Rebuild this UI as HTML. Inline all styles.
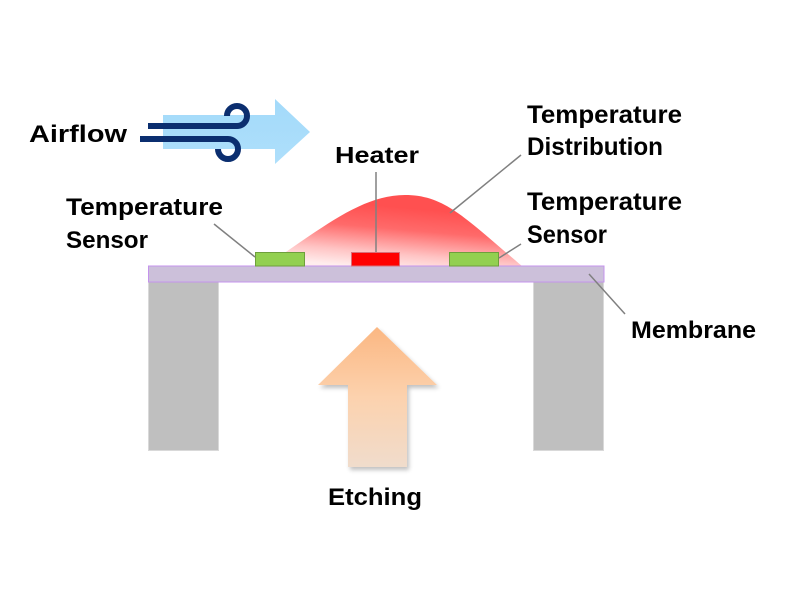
<!DOCTYPE html>
<html>
<head>
<meta charset="utf-8">
<style>
html,body{margin:0;padding:0;background:#fff;}
svg{display:block;}
text{font-family:"Liberation Sans",sans-serif;font-weight:bold;fill:#000;}
</style>
</head>
<body>
<svg width="800" height="600" viewBox="0 0 800 600" xmlns="http://www.w3.org/2000/svg">
<defs>
<linearGradient id="heat" x1="0.6" y1="0.2" x2="0.35" y2="1">
<stop offset="0" stop-color="#FF5050"/>
<stop offset="0.35" stop-color="#FF6A6A"/>
<stop offset="0.75" stop-color="#FFC4C4"/>
<stop offset="1" stop-color="#FFEDED"/>
</linearGradient>
<linearGradient id="etch" x1="0" y1="0" x2="0" y2="1">
<stop offset="0" stop-color="#FBB782"/>
<stop offset="0.5" stop-color="#FCD2AE"/>
<stop offset="1" stop-color="#F0DCCC"/>
</linearGradient>
<linearGradient id="air" x1="0" y1="0" x2="0" y2="1">
<stop offset="0" stop-color="#A3DAFA"/>
<stop offset="1" stop-color="#AEDFFB"/>
</linearGradient>
<filter id="sh" x="-20%" y="-20%" width="140%" height="140%">
<feGaussianBlur in="SourceAlpha" stdDeviation="2"/>
<feOffset dx="2" dy="3"/>
<feComponentTransfer><feFuncA type="linear" slope="0.25"/></feComponentTransfer>
<feMerge><feMergeNode/><feMergeNode in="SourceGraphic"/></feMerge>
</filter>
</defs>

<!-- Airflow arrow -->
<polygon points="163,115 275,115 275,99 310,132 275,164 275,149 163,149" fill="url(#air)"/>
<path d="M148,126 H237 A10,10 0 1 0 227,116" fill="none" stroke="#0B2E6F" stroke-width="6"/>
<path d="M140,139 H228 A10,10 0 1 1 218,149" fill="none" stroke="#0B2E6F" stroke-width="6"/>
<text x="29" y="142" font-size="24" textLength="98" lengthAdjust="spacingAndGlyphs">Airflow</text>

<!-- Temperature distribution -->
<path d="M265,266 C320,230 360,195 405,195 C445,195 465,218 522,266 Z" fill="url(#heat)"/>

<!-- Pillars -->
<rect x="148.5" y="282" width="70" height="168.5" fill="#BFBFBF" stroke="#D9D9D9" stroke-width="1"/>
<rect x="533.5" y="282" width="70" height="168.5" fill="#BFBFBF" stroke="#D9D9D9" stroke-width="1"/>

<!-- Membrane -->
<rect x="148.5" y="266" width="455.5" height="16" fill="#CCC0DA" stroke="#C493EC" stroke-width="1"/>

<!-- Sensors and heater -->
<rect x="255.5" y="252.5" width="49" height="13.5" fill="#92D050" stroke="#6E9F3C" stroke-width="1"/>
<rect x="449.5" y="252.5" width="49" height="13.5" fill="#92D050" stroke="#6E9F3C" stroke-width="1"/>
<rect x="351.5" y="252.5" width="48" height="13.5" fill="#FF0000" stroke="#D9707A" stroke-width="1"/>

<!-- Leader lines -->
<g stroke="#808080" stroke-width="1.5" fill="none">
<line x1="376" y1="172" x2="376" y2="252"/>
<line x1="214" y1="224" x2="255" y2="257"/>
<line x1="450" y1="213" x2="521" y2="155"/>
<line x1="499" y1="258" x2="521" y2="244"/>
<line x1="589" y1="274" x2="625" y2="314"/>
</g>

<!-- Etching arrow -->
<polygon points="377,327 437,385 407,385 407,467 348,467 348,385 318,385" fill="url(#etch)" filter="url(#sh)"/>

<!-- Labels -->
<text x="335" y="163" font-size="23" textLength="84" lengthAdjust="spacingAndGlyphs">Heater</text>
<text x="66" y="215" font-size="24" textLength="157" lengthAdjust="spacingAndGlyphs">Temperature</text>
<text x="66" y="248" font-size="24" textLength="82" lengthAdjust="spacingAndGlyphs">Sensor</text>
<text x="527" y="123" font-size="25" textLength="155" lengthAdjust="spacingAndGlyphs">Temperature</text>
<text x="527" y="155" font-size="25" textLength="136" lengthAdjust="spacingAndGlyphs">Distribution</text>
<text x="527" y="210" font-size="25" textLength="155" lengthAdjust="spacingAndGlyphs">Temperature</text>
<text x="527" y="243" font-size="25" textLength="80" lengthAdjust="spacingAndGlyphs">Sensor</text>
<text x="631" y="338" font-size="24" textLength="125" lengthAdjust="spacingAndGlyphs">Membrane</text>
<text x="328" y="505" font-size="24" textLength="94" lengthAdjust="spacingAndGlyphs">Etching</text>
</svg>
</body>
</html>
